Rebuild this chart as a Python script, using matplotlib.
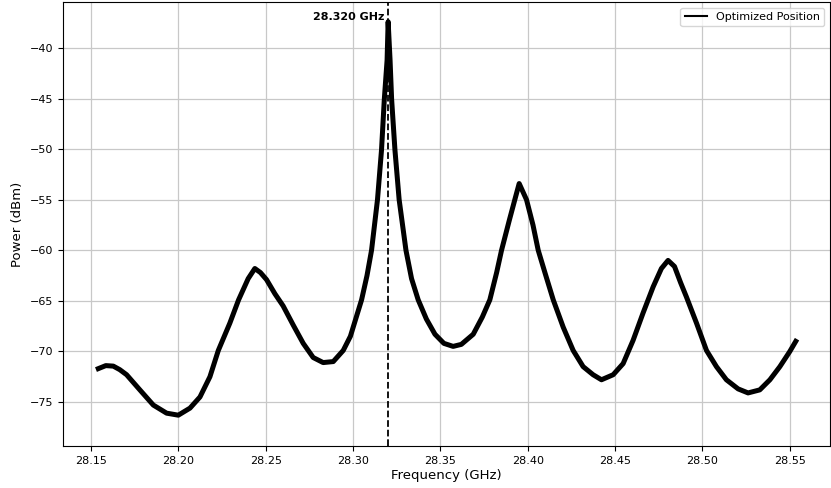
import matplotlib
matplotlib.use("Agg")
import matplotlib.pyplot as plt
from matplotlib.lines import Line2D

# spectrum trace (GHz, dBm)
freq = [28.1542, 28.1585, 28.1628, 28.1665, 28.1704, 28.178, 28.1857, 28.1933, 28.2,
        28.2067, 28.2124, 28.2181, 28.2229, 28.2295, 28.2345, 28.24, 28.2438, 28.247,
        28.2505, 28.2553, 28.26, 28.2658, 28.2715, 28.2772, 28.2829, 28.2887, 28.2944,
        28.2985, 28.3049, 28.308, 28.3106, 28.314, 28.3163, 28.3179, 28.3195, 28.3201,
        28.3212, 28.3221, 28.324, 28.3264, 28.3303, 28.3335, 28.3373, 28.342, 28.3469,
        28.352, 28.3573, 28.362, 28.3688, 28.374, 28.3783, 28.3822, 28.385, 28.3895,
        28.3926, 28.3951, 28.3993, 28.403, 28.406, 28.41, 28.4146, 28.4203, 28.426,
        28.4317, 28.4374, 28.4422, 28.4489, 28.4546, 28.4603, 28.466, 28.4718, 28.4765,
        28.4803, 28.484, 28.4875, 28.4908, 28.4966, 28.5023, 28.508, 28.5137, 28.5204,
        28.5261, 28.5328, 28.5386, 28.5443, 28.55, 28.5534]
power = [-71.7, -71.4, -71.45, -71.8, -72.3, -73.8, -75.3, -76.1, -76.3,
         -75.6, -74.5, -72.5, -69.9, -67.2, -64.9, -62.8, -61.8, -62.2,
         -62.9, -64.3, -65.5, -67.4, -69.2, -70.6, -71.1, -71.0, -69.9,
         -68.5, -64.9, -62.5, -60.0, -55.0, -50.1, -45.1, -41.2, -37.4,
         -41.2, -45.1, -50.1, -55.0, -60.0, -62.8, -64.9, -66.8, -68.3,
         -69.2, -69.5, -69.3, -68.3, -66.6, -64.9, -62.2, -60.0, -57.0,
         -55.0, -53.4, -55.0, -57.5, -60.0, -62.3, -64.9, -67.6, -69.9,
         -71.5, -72.3, -72.8, -72.3, -71.2, -68.9, -66.2, -63.6, -61.8,
         -61.0, -61.6, -63.2, -64.6, -67.2, -69.9, -71.5, -72.8, -73.7,
         -74.1, -73.8, -72.8, -71.5, -70.0, -69.0]
peak_freq = 28.320

fig = plt.figure(figsize=(8.31, 4.88), dpi=100)
ax = fig.add_axes([0.0758, 0.086, 0.923, 0.910])

ax.plot(freq, power, color="black", linewidth=3.6, solid_joinstyle="round")
ax.axvline(peak_freq, color="black", linestyle="--", linewidth=1.3)
ax.text(peak_freq - 0.0018, -36.9, "%.3f GHz" % peak_freq, ha="right", va="center",
        fontsize=8, fontweight="bold")

ax.set_xlim(28.134, 28.573)
ax.set_ylim(-79.35, -35.45)
ax.set_xticks([28.15, 28.20, 28.25, 28.30, 28.35, 28.40, 28.45, 28.50, 28.55])
ax.set_yticks([-75, -70, -65, -60, -55, -50, -45, -40])
ax.tick_params(axis="both", labelsize=8)
ax.set_xlabel("Frequency (GHz)", fontsize=9.5, labelpad=2)
ax.set_ylabel("Power (dBm)", fontsize=9.5)
ax.grid(True, color="#c8c8c8", linewidth=0.9)

handle = Line2D([], [], color="black", linewidth=1.5)
ax.legend([handle], ["Optimized Position"], loc="upper right", fontsize=8)

fig.savefig("out.png", dpi=100)
